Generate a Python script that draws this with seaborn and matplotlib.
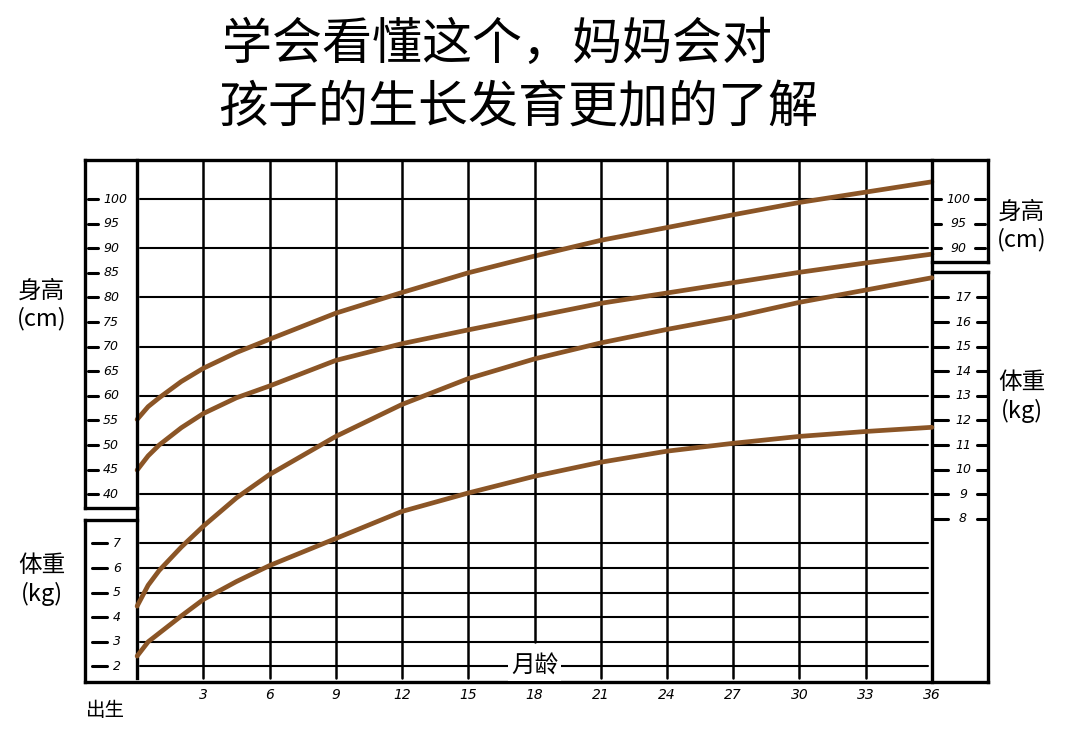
import numpy as np
import pandas as pd
import matplotlib.pyplot as plt
import seaborn as sns

sns.set_style('white')
plt.rcParams['font.family'] = ['Noto Sans CJK SC', 'DejaVu Sans']
plt.rcParams['text.color'] = 'black'

# month of age
months = [0, 0.5, 1, 2, 3, 4.5, 6, 9, 12, 15, 18, 21, 24, 27, 30, 33, 36]
# height curves (cm), upper and lower
height_hi = [55.2, 57.8, 59.6, 62.9, 65.6, 68.8, 71.5, 76.8, 81.0, 85.0, 88.4, 91.6, 94.2, 96.8, 99.3, 101.4, 103.5]
height_lo = [44.9, 47.8, 50.0, 53.5, 56.4, 59.6, 62.0, 67.2, 70.6, 73.4, 76.1, 78.8, 80.9, 83.0, 85.1, 87.0, 88.8]
# weight curves (kg), upper and lower
weight_hi = [4.45, 5.3, 5.9, 6.85, 7.7, 8.85, 9.8, 11.35, 12.65, 13.7, 14.5, 15.15, 15.7, 16.2, 16.8, 17.3, 17.8]
weight_lo = [2.42, 3.0, 3.35, 4.05, 4.72, 5.45, 6.1, 7.2, 8.3, 9.05, 9.73, 10.3, 10.75, 11.07, 11.35, 11.55, 11.72]

month_ticks = [3, 6, 9, 12, 15, 18, 21, 24, 27, 30, 33, 36]
height_left_ticks = [100, 95, 90, 85, 80, 75, 70, 65, 60, 55, 50, 45, 40]
height_right_ticks = [100, 95, 90]
weight_left_ticks = [7, 6, 5, 4, 3, 2]
weight_right_ticks = [17, 16, 15, 14, 13, 12, 11, 10, 9, 8]
height_grid = [100, 90, 80, 70, 60, 50, 40]
weight_grid = [7, 6, 5, 4, 3, 2]

title1 = '学会看懂这个，妈妈会对'
title2 = '孩子的生长发育更加的了解'

df_h = pd.DataFrame({'month': months * 2, 'val': height_hi + height_lo,
                     'curve': ['hi'] * len(months) + ['lo'] * len(months)})
df_w = pd.DataFrame({'month': months * 2, 'val': weight_hi + weight_lo,
                     'curve': ['hi'] * len(months) + ['lo'] * len(months)})

brown = '#8B5526'
XMIN, XMAX = -2.36, 38.54
YMIN, YMAX = 1.83, 107.93
# weight kg is drawn on the same paper as cm = 5*kg - 5
kg = lambda c: (c + 5) / 5.0

fig = plt.figure(figsize=(10.8, 7.5), dpi=100)
ax = fig.add_axes([85 / 1080, 1 - 682 / 750, (988 - 85) / 1080, (682 - 160) / 750])
ax.set_xlim(XMIN, XMAX)
ax.set_ylim(YMIN, YMAX)
ax2 = ax.twinx()
ax2.set_ylim(kg(YMIN), kg(YMAX))

# grid
for h in height_grid:
    ax.plot([0.15, 35.8], [h, h], color='black', lw=1.5, zorder=1)
for w in weight_grid:
    ax2.plot([0.15, 35.8], [w, w], color='black', lw=1.5, zorder=1)
for m in month_ticks[:-1]:
    if m == 18:
        ax2.plot([m, m], [3, kg(YMAX)], color='black', lw=1.8, zorder=1)
    else:
        ax.plot([m, m], [2.6, YMAX], color='black', lw=1.8, zorder=1)

# frame
frame = dict(color='black', lw=2.4, clip_on=False, zorder=5, solid_capstyle='projecting')
ax.plot([XMIN, XMAX], [YMAX, YMAX], **frame)
ax.plot([XMIN, XMAX], [YMIN, YMIN], **frame)
ax.plot([XMIN, XMIN], [37.2, YMAX], **frame)
ax.plot([XMIN, XMIN], [YMIN, 34.76], **frame)
ax.plot([XMIN, 0], [37.2, 37.2], **frame)
ax.plot([XMIN, 0], [34.76, 34.76], **frame)
ax.plot([0, 0], [2.6, YMAX], **frame)
ax.plot([36, 36], [YMIN, YMAX], **frame)
ax.plot([XMAX, XMAX], [87.2, YMAX], **frame)
ax.plot([XMAX, XMAX], [YMIN, 85.16], **frame)
ax.plot([36, XMAX], [87.2, 87.2], **frame)
ax.plot([36, XMAX], [85.16, 85.16], **frame)

# curves
sns.lineplot(data=df_h, x='month', y='val', units='curve', estimator=None,
             color=brown, lw=3.4, ax=ax, zorder=3, legend=False)
sns.lineplot(data=df_w, x='month', y='val', units='curve', estimator=None,
             color=brown, lw=3.4, ax=ax2, zorder=3, legend=False)
ax2.set_ylim(kg(YMIN), kg(YMAX))
ax.set_ylim(YMIN, YMAX)
for a in (ax, ax2):
    a.axis('off')

px = lambda p: (p - 137) / 22.08
tick = dict(color='black', lw=2.2, clip_on=False, zorder=5)
num = dict(fontsize=9, style='italic', va='center', family='DejaVu Sans')

for h in height_left_ticks:
    ax.plot([px(88), px(98)], [h, h], **tick)
    ax.text(px(103), h, str(h), ha='left', **num)
for w in weight_left_ticks:
    ax2.plot([px(92), px(107)], [w, w], **tick)
    ax2.text(px(117), w, str(w), ha='center', **num)
for h in height_right_ticks:
    ax.plot([px(934), px(941)], [h, h], **tick)
    ax.plot([px(975), px(985)], [h, h], **tick)
    ax.text(px(958), h, str(h), ha='center', **num)
for w in weight_right_ticks:
    ax2.plot([px(934), px(948)], [w, w], **tick)
    ax2.plot([px(977), px(987)], [w, w], **tick)
    ax2.text(px(963), w, str(w), ha='center', **num)

for m in month_ticks:
    ax.text(m, -0.9, str(m), ha='center', va='center', fontsize=10, style='italic',
            family='DejaVu Sans')
ax.text(px(105), -3.9, '出生', ha='center', va='center', fontsize=14)
ax2.text(18, 2, '月龄', ha='center', va='center', fontsize=17, zorder=6,
         bbox=dict(facecolor='white', edgecolor='none', pad=2))

side = dict(ha='center', va='center', fontsize=17, linespacing=1.25)
fig.text(42 / 1080, 1 - 305 / 750, '身高\n(cm)', **side)
fig.text(42 / 1080, 1 - 580 / 750, '体重\n(kg)', **side)
fig.text(1022 / 1080, 1 - 226 / 750, '身高\n(cm)', **side)
fig.text(1022 / 1080, 1 - 397 / 750, '体重\n(kg)', **side)

fig.text(222 / 1080, 1 - 45 / 750, title1, ha='left', va='center', fontsize=36, weight='medium')
fig.text(218 / 1080, 1 - 108 / 750, title2, ha='left', va='center', fontsize=36, weight='medium')

fig.savefig('out.png', dpi=100, facecolor='white')
